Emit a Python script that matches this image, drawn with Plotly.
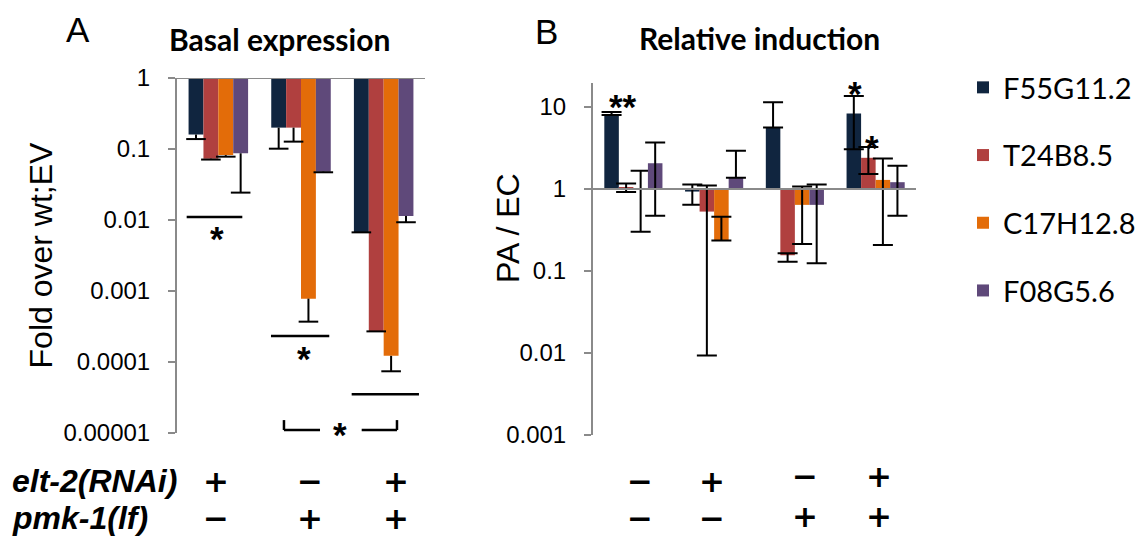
import math
import plotly.graph_objects as go

# ---------------- data ----------------
genes = ["F55G11.2", "T24B8.5", "C17H12.8", "F08G5.6"]
colors = ["#10253f", "#b0403f", "#e36c09", "#5f497a"]

# Panel A: basal expression (fold over wt;EV), 3 conditions
a_elt2 = ["+", "−", "+"]
a_pmk1 = ["−", "+", "+"]
a_f55g11 = [0.16, 0.20, 0.0067]
a_t24b8 = [0.073, 0.20, 0.00027]
a_c17h12 = [0.082, 0.00078, 0.000122]
a_f08g5 = [0.087, 0.048, 0.0114]
# lower end of the (minus-only) error bars
a_f55g11_lo = [0.138, 0.101, 0.0067]
a_t24b8_lo = [0.071, 0.127, 0.00027]
a_c17h12_lo = [0.078, 0.00037, 0.000074]
a_f08g5_lo = [0.0243, 0.047, 0.0093]

# Panel B: relative induction (PA / EC), 4 conditions
b_elt2 = ["−", "+", "−", "+"]
b_pmk1 = ["−", "−", "+", "+"]
b_f55g11 = [8.1, 0.93, 5.6, 8.3]
b_t24b8 = [1.03, 0.53, 0.155, 2.4]
b_c17h12 = [0.98, 0.235, 0.64, 1.29]
b_f08g5 = [2.06, 1.37, 0.64, 1.21]
b_f55g11_lo = [8.0, 0.64, 5.6, 3.05]
b_f55g11_hi = [8.7, 1.13, 11.4, 13.6]
b_t24b8_lo = [0.92, 0.0093, 0.13, 1.52]
b_t24b8_hi = [1.17, 1.10, 0.165, 3.25]
b_c17h12_lo = [0.30, 0.235, 0.213, 0.207]
b_c17h12_hi = [1.67, 0.46, 1.07, 2.35]
b_f08g5_lo = [0.47, 1.37, 0.124, 0.47]
b_f08g5_hi = [3.7, 2.93, 1.13, 1.92]

a_ticks = [1, 0.1, 0.01, 0.001, 0.0001, 0.00001]
a_ticktext = ["1", "0.1", "0.01", "0.001", "0.0001", "0.00001"]
b_ticks = [10, 1, 0.1, 0.01, 0.001]
b_ticktext = ["10", "1", "0.1", "0.01", "0.001"]

a_vals = [a_f55g11, a_t24b8, a_c17h12, a_f08g5]
a_los = [a_f55g11_lo, a_t24b8_lo, a_c17h12_lo, a_f08g5_lo]
b_vals = [b_f55g11, b_t24b8, b_c17h12, b_f08g5]
b_los = [b_f55g11_lo, b_t24b8_lo, b_c17h12_lo, b_f08g5_lo]
b_his = [b_f55g11_hi, b_t24b8_hi, b_c17h12_hi, b_f08g5_hi]

# ---------------- layout constants ----------------
W, H = 1138, 538
BW = 0.18
offsets = [-1.5 * BW, -0.5 * BW, 0.5 * BW, 1.5 * BW]
AX_GRAY = "#8a8a8a"
SANS = "Liberation Sans, Arial, sans-serif"
TITLEF = "Lato, Liberation Sans, sans-serif"
SIGNF = "DejaVu Sans, Liberation Sans, sans-serif"


def px_x(p):
    return p / W


def px_y(p):
    return 1 - p / H


fig = go.Figure()

for j, g in enumerate(genes):
    xs = [i + offsets[j] for i in range(len(a_vals[j]))]
    fig.add_trace(go.Bar(
        x=xs, y=[v - 1 for v in a_vals[j]], base=1, width=BW,
        marker=dict(color=colors[j], line=dict(width=0)),
        name=g, legendgroup=g, xaxis="x", yaxis="y",
        customdata=a_vals[j], hovertemplate=g + ": %{customdata}<extra></extra>",
    ))
    fig.add_trace(go.Scatter(
        x=xs, y=a_los[j], mode="markers",
        marker=dict(symbol="line-ew", size=14, color="black",
                    line=dict(width=2, color="black")),
        error_y=dict(type="data", symmetric=False,
                     array=[v - lo for v, lo in zip(a_vals[j], a_los[j])],
                     arrayminus=[0] * len(a_los[j]),
                     width=0, thickness=2, color="black"),
        showlegend=False, legendgroup=g, hoverinfo="skip",
        xaxis="x", yaxis="y",
    ))

for j, g in enumerate(genes):
    xs = [i + offsets[j] for i in range(len(b_vals[j]))]
    fig.add_trace(go.Bar(
        x=xs, y=[v - 1 for v in b_vals[j]], base=1, width=BW,
        marker=dict(color=colors[j], line=dict(width=0)),
        name=g, legendgroup=g, showlegend=False, xaxis="x2", yaxis="y2",
        customdata=b_vals[j], hovertemplate=g + ": %{customdata}<extra></extra>",
        error_y=dict(type="data", symmetric=False,
                     array=[hi - v for v, hi in zip(b_vals[j], b_his[j])],
                     arrayminus=[v - lo for v, lo in zip(b_vals[j], b_los[j])],
                     width=10, thickness=2, color="black"),
    ))

yaxis_common = dict(
    type="log", showgrid=False, zeroline=False, showline=True, automargin=False,
    linecolor=AX_GRAY, linewidth=2, ticks="outside", ticklen=7,
    tickwidth=2, tickcolor=AX_GRAY, tickfont=dict(size=24, color="black", family=SANS),
    ticklabelstandoff=13,
)
xaxis_common = dict(showgrid=False, zeroline=False, showline=False, automargin=False,
                    showticklabels=False, ticks="", fixedrange=True)

fig.update_layout(
    width=W, height=H, margin=dict(l=0, r=0, t=0, b=0, autoexpand=False),
    paper_bgcolor="white", plot_bgcolor="white",
    barmode="overlay", font=dict(family=SANS, color="black"),
    xaxis=dict(domain=[px_x(177), px_x(425)], range=[-0.5, 2.5], anchor="y", **xaxis_common),
    yaxis=dict(domain=[px_y(433), px_y(78)], range=[-5, 0], anchor="x",
               tickvals=a_ticks, ticktext=a_ticktext,
               title=dict(text="Fold over wt;EV", standoff=1,
                          font=dict(size=32, color="black", family=SANS)),
               **yaxis_common),
    xaxis2=dict(domain=[px_x(593), px_x(916)], range=[-0.5, 3.5], anchor="y2", **xaxis_common),
    yaxis2=dict(domain=[px_y(435), px_y(83)], range=[-3, math.log10(19.6)], anchor="x2",
                tickvals=b_ticks, ticktext=b_ticktext, **yaxis_common),
    legend=dict(x=px_x(963), xanchor="left", y=px_y(62), yanchor="top",
                font=dict(family=TITLEF, size=29, color="black"),
                tracegroupgap=27, bgcolor="rgba(0,0,0,0)"),
    showlegend=True,
)

shapes = []
# baseline at 1
for xr, yr in (("x domain", "y"), ("x2 domain", "y2")):
    shapes.append(dict(type="line", xref=xr, yref=yr, x0=0, x1=1, y0=1, y1=1,
                       line=dict(color=AX_GRAY, width=2), layer="above"))
# significance lines in panel A
sig_lines = [(-0.383, 0.290, 0.011), (0.637, 1.342, 0.000232), (1.613, 2.427, 0.0000351)]
for x0, x1, yv in sig_lines:
    shapes.append(dict(type="line", xref="x", yref="y", x0=x0, x1=x1, y0=yv, y1=yv,
                       line=dict(color="black", width=2.5)))
# bracket comparing conditions 2 and 3
br_lo, br_hi = 1.1e-5, 1.52e-5
for (xa, xb, xv) in ((0.794, 1.23, 0.794), (1.734, 2.161, 2.161)):
    shapes.append(dict(type="line", xref="x", yref="y", x0=xa, x1=xb, y0=br_lo, y1=br_lo,
                       line=dict(color="black", width=2.5)))
    shapes.append(dict(type="line", xref="x", yref="y", x0=xv, x1=xv, y0=br_lo, y1=br_hi,
                       line=dict(color="black", width=2.5)))
fig.update_layout(shapes=shapes)

ann = []


def paper_text(text, x, y, size, family=SANS, xanchor="center", angle=0):
    return dict(text=text, x=px_x(x), y=px_y(y), xref="paper", yref="paper",
                xanchor=xanchor, yanchor="middle", showarrow=False, textangle=angle,
                font=dict(size=size, family=family, color="black"))


# panel letters and titles
ann.append(paper_text("A", 78, 30, 35))
ann.append(paper_text("B", 546, 32, 35))
ann.append(paper_text("<b>Basal expression</b>", 279, 39, 30, TITLEF))
ann.append(paper_text("<b>Relative induction</b>", 759, 38, 30, TITLEF))
# panel B y-axis title
ann.append(paper_text("PA / EC", 508, 228, 32, angle=-90))
# genotype row labels
ann.append(paper_text("<b><i>elt-2(RNAi)</i></b>", 10, 481, 32, xanchor="left"))
ann.append(paper_text("<b><i>pmk-1(lf)</i></b>", 10, 518, 32, xanchor="left"))
# +/- signs
SIGN_FONT = dict(size=31, family=SIGNF, color="black")
a_sign_x = [-0.03, 1.11, 2.15]
for i in range(len(a_elt2)):
    for txt, yy in ((a_elt2[i], 481), (a_pmk1[i], 518)):
        ann.append(dict(text="<b>" + txt + "</b>", x=a_sign_x[i], xref="x", y=px_y(yy),
                        yref="paper", xanchor="center", yanchor="middle", showarrow=False,
                        font=SIGN_FONT))
b_sign_x = [0.08, 0.97, 2.12, 3.04]
b_row1_y = [481, 481, 476, 476]
b_row2_y = [518, 518, 516, 516]
for i in range(len(b_elt2)):
    for txt, yy in ((b_elt2[i], b_row1_y[i]), (b_pmk1[i], b_row2_y[i])):
        ann.append(dict(text="<b>" + txt + "</b>", x=b_sign_x[i], xref="x2", y=px_y(yy),
                        yref="paper", xanchor="center", yanchor="middle", showarrow=False,
                        font=SIGN_FONT))
# significance stars
stars = [("*", "x", "y", -0.02, -2.26), ("*", "x", "y", 1.04, -3.95),
         ("**", "x2", "y2", -0.13, 1.01), ("*", "x2", "y2", 2.74, 1.17),
         ("*", "x2", "y2", 2.951, 0.50)]
for t, xr, yr, xv, yv in stars:
    ann.append(dict(text="<b>" + t + "</b>", x=xv, y=yv, xref=xr, yref=yr, showarrow=False,
                    xanchor="center", yanchor="middle",
                    font=dict(size=35, family=SANS, color="black")))
ann.append(dict(text="<b>*</b>", x=1.472, xref="x", y=px_y(434), yref="paper",
                showarrow=False, xanchor="center", yanchor="middle",
                font=dict(size=35, family=SANS, color="black")))
fig.update_layout(annotations=ann)

fig.write_html("out.html")
